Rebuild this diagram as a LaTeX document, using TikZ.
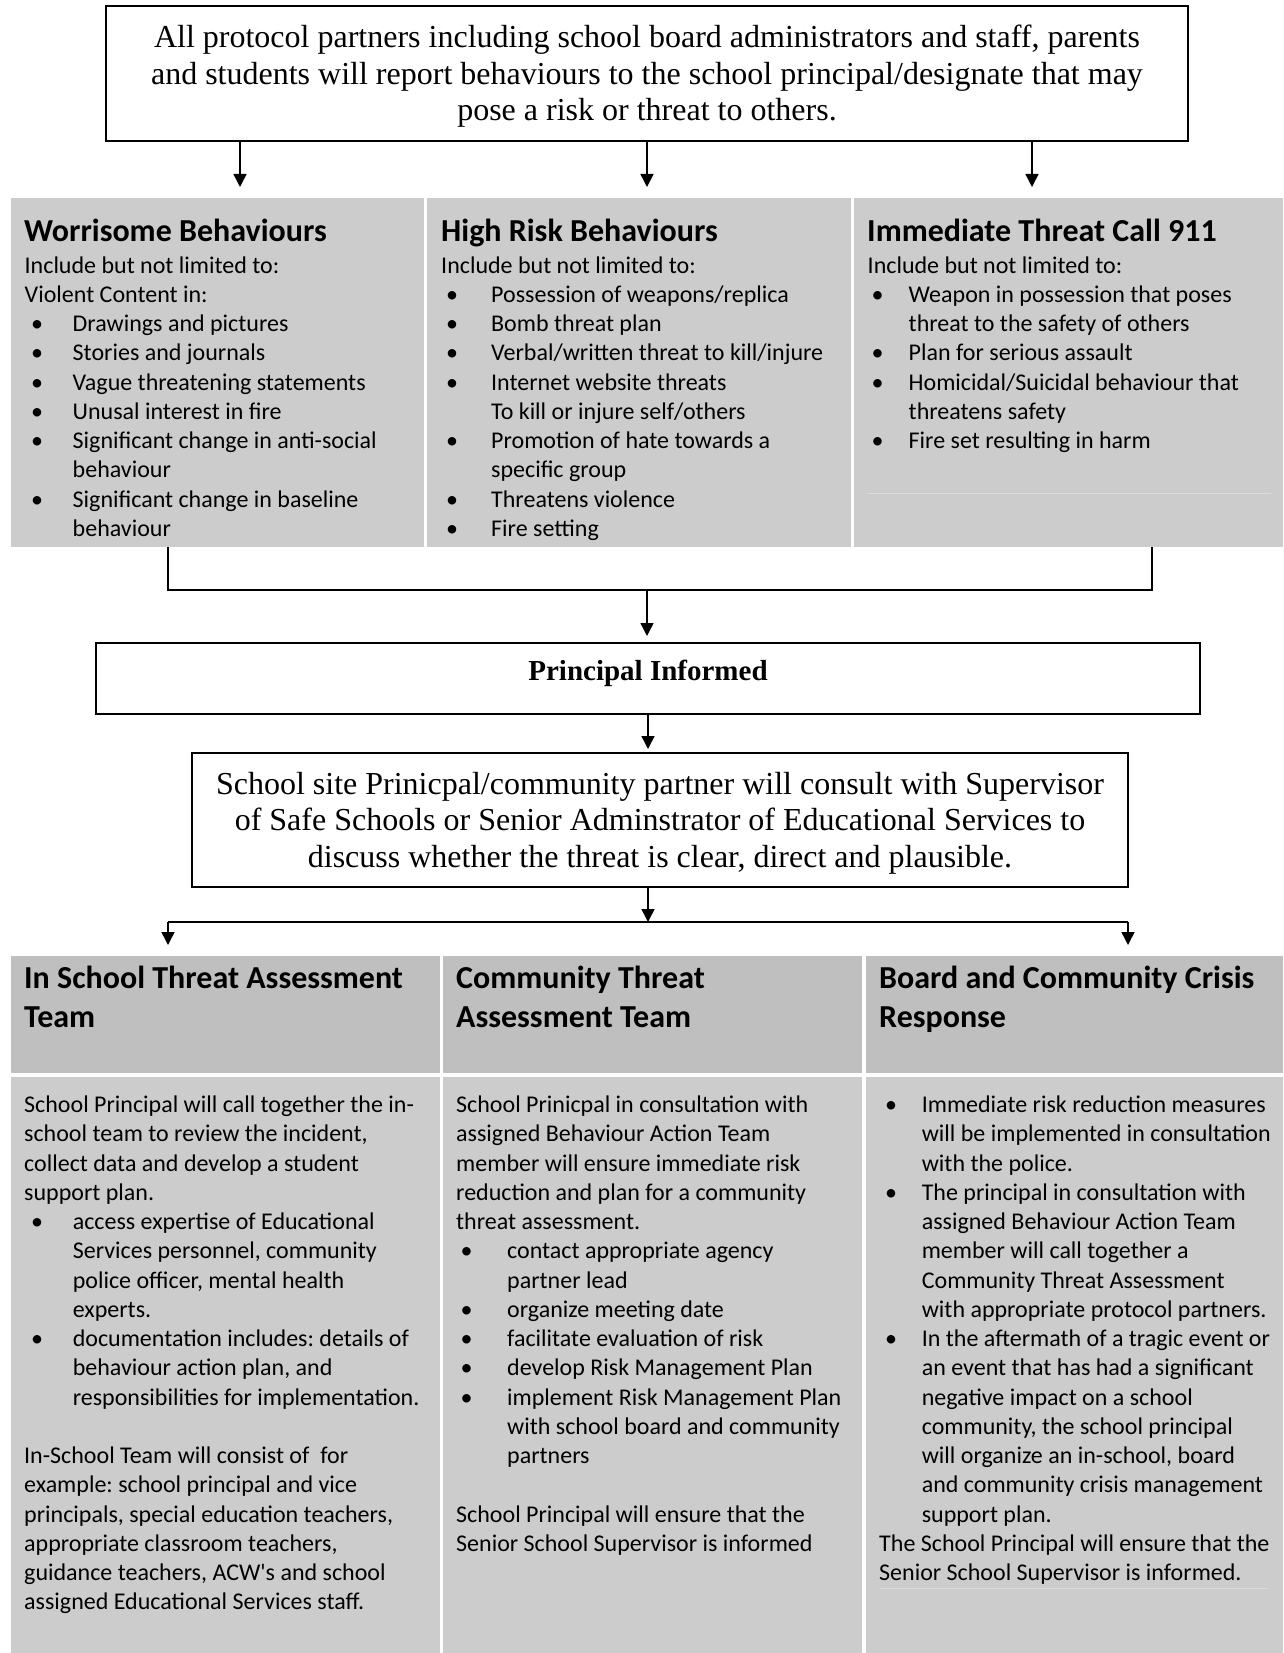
\documentclass[tikz,border=0pt]{standalone}
\usepackage{fontspec}
\setmainfont{Liberation Serif}
\newfontfamily\carl{Carlito}
\usetikzlibrary{arrows.meta,positioning}

\definecolor{cellgray}{HTML}{CCCCCC}
\definecolor{headgray}{HTML}{BFBFBF}

% bullet lines with a hanging indent
\newlength\bulpre
\newlength\bulind
\newcommand{\bulset}[2]{\setlength\bulpre{#1pt}\setlength\bulind{#2pt}}
\newcommand{\bul}{\par\hangindent=\bulind\hangafter=1\noindent
 \hspace*{\bulpre}\makebox[\dimexpr\bulind-\bulpre\relax][l]{\textbullet}\ignorespaces}
\frenchspacing

\begin{document}
\begin{tikzpicture}[x=1pt,y=-1pt,
 wbox/.style={draw=black,line width=2pt,fill=white,inner sep=0pt,align=flush center},
 serif/.style={font=\fontsize{32}{36.5}\selectfont},
 cell/.style={fill=cellgray,inner sep=0pt,outer sep=0pt,anchor=north west},
 hcell/.style={cell,fill=headgray},
 faint/.style={white!30!cellgray,line width=0.8pt},
 ttl/.style={font=\carl\bfseries\fontsize{32}{39}\selectfont,inner sep=0pt,anchor=base west},
 txt/.style={font=\carl\fontsize{24}{29.25}\selectfont,inner sep=0pt,anchor=base west},
 link/.style={line width=1.5pt},
 arr/.style={link,-{Triangle[length=13pt,width=13pt]}}]
\useasboundingbox (0,0) rectangle (1283,1653);

% reporting box
\node[wbox,serif,minimum width=1082pt,minimum height=135pt,text width=1060pt] (report) at (647,73.5)
 {\rule{0pt}{28.5pt}All protocol partners including school board administrators and staff, parents\\
 and students will report behaviours to the school principal/designate that may\\
 pose a risk or threat to others.};

% behaviour columns
\node[cell,minimum width=413pt,minimum height=349pt] (c11) at (11,198) {};
\node[cell,minimum width=424pt,minimum height=349pt] (c12) at (427,198) {};
\node[cell,minimum width=429pt,minimum height=349pt] (c13) at (854,198) {};
\draw[faint] (867,493) -- (1271,493);

\coordinate (a1) at (240,0);
\coordinate (a2) at (647,0);
\coordinate (a3) at (1032,0);
\foreach \a/\c in {a1/c11,a2/c12,a3/c13}
 \draw[arr,shorten >=11pt] (report.south -| \a) -- (\c.north -| \a);

\node[ttl] (h11) at (24,242) {Worrisome Behaviours};
\node[ttl] (h12) at (441,242) {High Risk Behaviours};
\node[ttl] (h13) at (867,242) {Immediate Threat Call 911};

\node[txt] (t11) at (24.5,273) {\parbox[t]{400pt}{\bulset{6.5}{48}%
 Include but not limited to:\par
 Violent Content in:
 \bul Drawings and pictures
 \bul Stories and journals
 \bul Vague threatening statements
 \bul Unusal interest in fire
 \bul Significant change in anti-social\newline behaviour
 \bul Significant change in baseline\newline behaviour}};
\node[txt] (t12) at (441,273) {\parbox[t]{405pt}{\bulset{5}{50}%
 Include but not limited to:
 \bul Possession of weapons/replica
 \bul Bomb threat plan
 \bul Verbal/written threat to kill/injure
 \bul Internet website threats\newline To kill or injure self/others
 \bul Promotion of hate towards a\newline specific group
 \bul Threatens violence
 \bul Fire setting}};
\node[txt] (t13) at (867.5,273) {\parbox[t]{410pt}{\bulset{4}{41}%
 Include but not limited to:
 \bul Weapon in possession that poses\newline threat to the safety of others
 \bul Plan for serious assault
 \bul Homicidal/Suicidal behaviour that\newline threatens safety
 \bul Fire set resulting in harm}};

% join to the principal
\coordinate (j1) at (168,590);
\coordinate (j2) at (1152,590);
\coordinate (jm) at (647,590);
\draw[link] (c11.south -| j1) -- (j1) -- (j2) -- (c13.south -| j2);

\node[wbox,minimum width=1104pt,minimum height=71pt,
 font=\bfseries\fontsize{29}{33}\selectfont] (inf) at (648,678.5)
 {\raisebox{5pt}[\height][\depth]{Principal Informed}};
\draw[arr,shorten >=6pt] (jm) -- (jm |- inf.north);

\node[wbox,serif,minimum width=936pt,minimum height=134pt,text width=930pt] (consult) at (660,820)
 {\rule{0pt}{28.5pt}School site Prinicpal/community partner will consult with Supervisor\\
 of Safe Schools or Senior Adminstrator of Educational Services to\\
 discuss whether the threat is clear, direct and plausible.};
\draw[arr,shorten >=3pt] (inf.south) -- (inf.south |- consult.north);

\coordinate (k1) at (168,922);
\coordinate (k2) at (1128,922);
\coordinate (km) at (648,922);
\draw[arr] (km |- consult.south) -- (km);
\draw[link] (k1) -- (k2);

% response columns
\node[hcell,minimum width=429pt,minimum height=117pt] (c21) at (11,956) {};
\node[hcell,minimum width=419pt,minimum height=117pt] (c22) at (443,956) {};
\node[hcell,minimum width=417pt,minimum height=117pt] (c23) at (866,956) {};
\node[cell,minimum width=429pt,minimum height=576pt] (d21) at (11,1077) {};
\node[cell,minimum width=419pt,minimum height=576pt] (d22) at (443,1077) {};
\node[cell,minimum width=417pt,minimum height=576pt] (d23) at (866,1077) {};
\draw[faint] (880,1588) -- (1268,1588);

\foreach \k/\c in {k1/c21,k2/c23}
 \draw[arr,shorten >=11pt] (\k) -- (\k |- \c.north);

\node[ttl] (h21) at (24,988) {\parbox[t]{420pt}{In School Threat Assessment\newline Team}};
\node[ttl] (h22) at (456,988) {\parbox[t]{400pt}{Community Threat\newline Assessment Team}};
\node[ttl] (h23) at (879,988) {\parbox[t]{400pt}{Board and Community Crisis\newline Response}};

\node[txt] (t21) at (24,1112.5) {\parbox[t]{415pt}{\bulset{7}{48.6}%
 School Principal will call together the in-\newline school team to review the incident,\newline
 collect data and develop a student\newline support plan.
 \bul access expertise of Educational\newline Services personnel, community\newline
 police officer, mental health\newline experts.
 \bul documentation includes: details of\newline behaviour action plan, and\newline
 responsibilities for implementation.\par
 \mbox{}\par
 In-School Team will consist of\ \ for\newline example: school principal and vice\newline
 principals, special education teachers,\newline appropriate classroom teachers,\newline
 guidance teachers, ACW's and school\newline assigned Educational Services staff.}};
\node[txt] (t22) at (456,1112.5) {\parbox[t]{400pt}{\bulset{4.5}{51}%
 School Prinicpal in consultation with\newline assigned Behaviour Action Team\newline
 member will ensure immediate risk\newline reduction and plan for a community\newline
 threat assessment.
 \bul contact appropriate agency\newline partner lead
 \bul organize meeting date
 \bul facilitate evaluation of risk
 \bul develop Risk Management Plan
 \bul implement Risk Management Plan\newline with school board and community\newline partners\par
 \mbox{}\par
 School Principal will ensure that the\newline Senior School Supervisor is informed}};
\node[txt] (t23) at (879,1112.5) {\parbox[t]{400pt}{\bulset{6}{42.6}%
 \bul Immediate risk reduction measures\newline will be implemented in consultation\newline
 with the police.
 \bul The principal in consultation with\newline assigned Behaviour Action Team\newline
 member will call together a\newline Community Threat Assessment\newline
 with appropriate protocol partners.
 \bul In the aftermath of a tragic event or\newline an event that has had a significant\newline
 negative impact on a school\newline community, the school principal\newline
 will organize an in-school, board\newline and community crisis management\newline
 support plan.\par
 The School Principal will ensure that the\newline Senior School Supervisor is informed.}};
\end{tikzpicture}
\end{document}
